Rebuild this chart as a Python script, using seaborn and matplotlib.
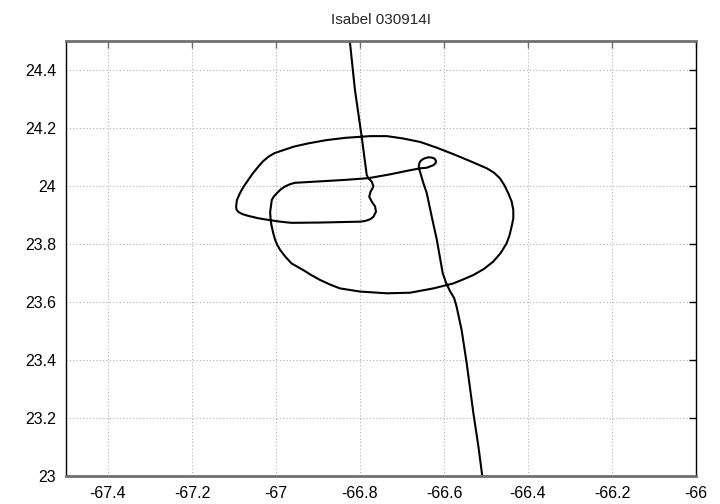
import matplotlib
matplotlib.use("Agg")
import matplotlib.pyplot as plt
import pandas as pd
import seaborn as sns
from matplotlib.ticker import FuncFormatter

# flight track (in path order)
lon = [
    -66.825, -66.812, -66.796, -66.790, -66.784, -66.780, -66.772, -66.768,
    -66.775, -66.778, -66.772, -66.764, -66.762, -66.768, -66.774, -66.780,
    -66.789, -66.800, -66.836, -66.895, -66.963, -66.990, -67.018, -67.043,
    -67.066, -67.080, -67.090, -67.094, -67.095, -67.093, -67.086, -67.077,
    -67.066, -67.055, -67.042, -67.031, -67.018, -67.004, -66.986, -66.957,
    -66.923, -66.881, -66.836, -66.776, -66.736, -66.698, -66.657, -66.617,
    -66.578, -66.538, -66.498, -66.481, -66.467, -66.456, -66.447, -66.439,
    -66.435, -66.435, -66.439, -66.444, -66.451, -66.465, -66.483, -66.505,
    -66.530, -66.554, -66.578, -66.625, -66.681, -66.736, -66.800, -66.848,
    -66.871, -66.895, -66.915, -66.935, -66.963, -66.977, -66.990, -66.997,
    -67.002, -67.007, -67.011, -67.013, -67.014, -67.012, -67.010, -67.005,
    -66.998, -66.989, -66.979, -66.967, -66.955, -66.895, -66.836, -66.780,
    -66.729, -66.689, -66.657, -66.641, -66.625, -66.620, -66.619, -66.622,
    -66.629, -66.637, -66.645, -66.652, -66.657, -66.659, -66.660, -66.659,
    -66.657, -66.650, -66.641, -66.635, -66.629, -66.617, -66.610, -66.603,
    -66.595, -66.586, -66.576, -66.570, -66.558, -66.546, -66.530, -66.518,
    -66.508,
]
lat = [
    24.510, 24.331, 24.170, 24.103, 24.038, 24.027, 24.015, 23.998,
    23.980, 23.963, 23.946, 23.929, 23.911, 23.894, 23.887, 23.883,
    23.879, 23.877, 23.876, 23.874, 23.873, 23.877, 23.883, 23.889,
    23.897, 23.903, 23.911, 23.919, 23.929, 23.952, 23.975, 23.998,
    24.021, 24.044, 24.067, 24.085, 24.101, 24.113, 24.122, 24.136,
    24.147, 24.158, 24.166, 24.172, 24.172, 24.164, 24.152, 24.132,
    24.110, 24.086, 24.061, 24.046, 24.027, 24.002, 23.975, 23.947,
    23.917, 23.888, 23.860, 23.830, 23.802, 23.769, 23.739, 23.714,
    23.693, 23.678, 23.664, 23.647, 23.632, 23.630, 23.636, 23.647,
    23.660, 23.676, 23.692, 23.710, 23.733, 23.755, 23.779, 23.797,
    23.814, 23.840, 23.866, 23.888, 23.910, 23.931, 23.952, 23.964,
    23.975, 23.988, 23.998, 24.006, 24.011, 24.016, 24.021, 24.027,
    24.040, 24.052, 24.061, 24.063, 24.072, 24.079, 24.086, 24.094,
    24.098, 24.099, 24.096, 24.091, 24.084, 24.076, 24.067, 24.058,
    24.049, 24.014, 23.975, 23.934, 23.893, 23.814, 23.756, 23.699,
    23.666, 23.638, 23.614, 23.584, 23.503, 23.389, 23.216, 23.101,
    22.990,
]
x_ticks = [-67.4, -67.2, -67.0, -66.8, -66.6, -66.4, -66.2, -66.0]
y_ticks = [23.0, 23.2, 23.4, 23.6, 23.8, 24.0, 24.2, 24.4]
title = "Isabel 030914I"

sns.set_style("white")
plt.rcParams["font.family"] = ["Liberation Sans Narrow", "Liberation Sans", "DejaVu Sans"]

df = pd.DataFrame({"lon": lon, "lat": lat})

fig = plt.figure(figsize=(7.2, 5.04), dpi=100)
ax = fig.add_axes([66 / 720, 28 / 504, 630 / 720, 435 / 504])

sns.lineplot(data=df, x="lon", y="lat", sort=False, estimator=None,
             color="black", linewidth=1.5, ax=ax)

ax.set_xlim(-67.5, -66.0)
ax.set_ylim(23.0, 24.5)
ax.set_xticks(x_ticks)
ax.set_yticks(y_ticks)
fmt = FuncFormatter(lambda v, p: f"{v:g}")
ax.xaxis.set_major_formatter(fmt)
ax.yaxis.set_major_formatter(fmt)
ax.set_xlabel("")
ax.set_ylabel("")

# dotted grey grid, inward ticks on all four sides
ax.grid(True, color="#b0b0b0", linestyle=(0, (1, 2)), linewidth=0.8)
ax.tick_params(direction="in", length=5, width=1, labelsize=11.5, pad=7,
               top=True, right=True, colors="black")
ax.tick_params(axis="x", colors="#707070", labelcolor="black")

for side in ["left", "right"]:
    ax.spines[side].set_color("black")
    ax.spines[side].set_linewidth(1)
for side in ["top", "bottom"]:
    ax.spines[side].set_color("#707070")
    ax.spines[side].set_linewidth(2)

ax.set_title(title, fontsize=11, pad=12)

fig.savefig("out.png", dpi=100)
